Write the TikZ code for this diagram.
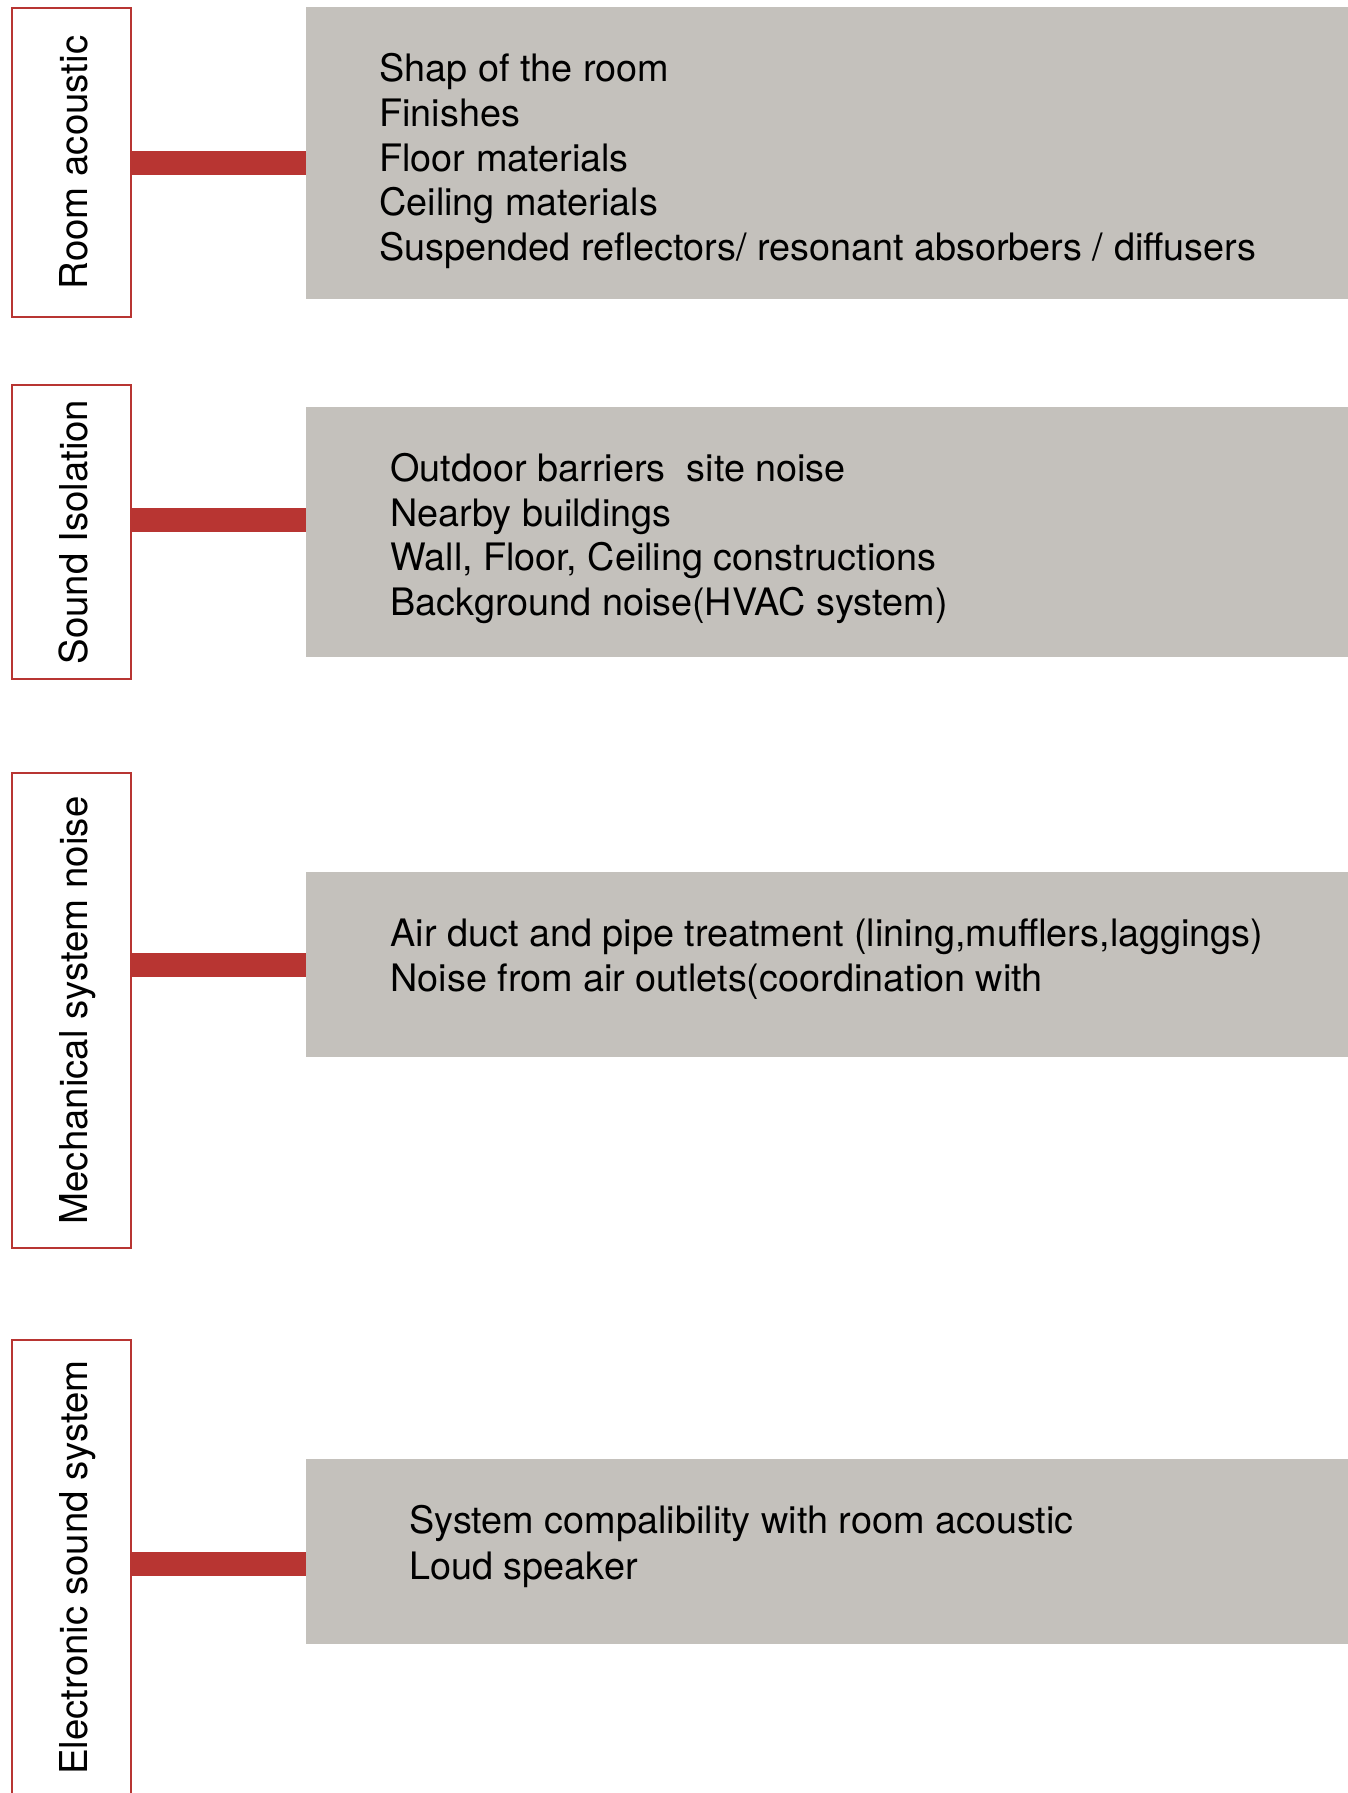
\documentclass[tikz,border=0pt]{standalone}
\usepackage{fontspec}
\setmainfont{TeX Gyre Heros}

\definecolor{barred}{HTML}{B83532}
\definecolor{panelgray}{HTML}{C4C1BC}

\tikzset{
  catbox/.style={draw=barred, line width=1pt, minimum width=59.25pt, inner sep=0pt},
  catlabel/.style={rotate=90, anchor=base, inner sep=0pt, font=\fontsize{19.2}{22}\selectfont},
  panel/.style={fill=panelgray, draw=none, outer sep=0pt, minimum width=521pt, inner sep=0pt},
  bar/.style={barred, line width=12pt},
  item/.style={anchor=base west, inner sep=0pt, font=\fontsize{18.9}{22}\selectfont}
}

\begin{document}
\begin{tikzpicture}[x=0.5pt, y=-0.5pt]
\useasboundingbox (0,0) rectangle (1348,1793);

% category boxes (left)
\node [catbox, minimum height=154.5pt] (cat1) at (71.25,162.5) {};
\node [catbox, minimum height=147pt]   (cat2) at (71.25,532) {};
\node [catbox, minimum height=237.5pt] (cat3) at (71.25,1010.5) {};
\node [catbox, minimum height=227.5pt] (cat4) at (71.25,1567.5) {};

\node [catlabel] (lab1) at (cat1.center -| 87,0) {Room acoustic};
\node [catlabel] (lab2) at (cat2.center -| 87,0) {Sound Isolation};
\node [catlabel] (lab3) at (cat3.center -| 87,0) {Mechanical system noise};
\node [catlabel] (lab4) at (cat4.center -| 87,0) {Electronic sound system};

% grey panels (right)
\node [panel, minimum height=146pt]  (pan1) at (827,153) {};
\node [panel, minimum height=125pt]  (pan2) at (827,532) {};
\node [panel, minimum height=92.5pt] (pan3) at (827,964.5) {};
\node [panel, minimum height=92.5pt] (pan4) at (827,1551.5) {};

% connectors
\coordinate (y1) at (0,163);
\coordinate (y2) at (0,520);
\coordinate (y3) at (0,965);
\coordinate (y4) at (0,1564);
\foreach \k in {1,2,3,4}{
    \draw [bar] (cat\k.east |- y\k) -- (pan\k.west |- y\k);
}

% panel texts
\foreach \i / \t in {0/Shap of the room, 1/Finishes, 2/Floor materials, 3/Ceiling materials,
    4/{Suspended reflectors/ resonant absorbers / diffusers}}{
    \node [item] (txa\i) at (379,82+44.6*\i) {\t};
}

\foreach \i / \t in {0/Outdoor barriers\ \ site noise, 1/Nearby buildings,
    2/{Wall, Floor, Ceiling constructions}, 3/Background noise(HVAC system)}{
    \node [item] (txb\i) at (390,481.5+44.6*\i) {\t};
}

\foreach \i / \t in {0/{Air duct and pipe treatment (lining,mufflers,laggings)},
    1/Noise from air outlets(coordination with}{
    \node [item] (txc\i) at (390,946.5+45*\i) {\t};
}

\foreach \i / \t in {0/System compalibility with room acoustic, 1/Loud speaker}{
    \node [item] (txd\i) at (409,1533.5+45.5*\i) {\t};
}

\end{tikzpicture}
\end{document}
